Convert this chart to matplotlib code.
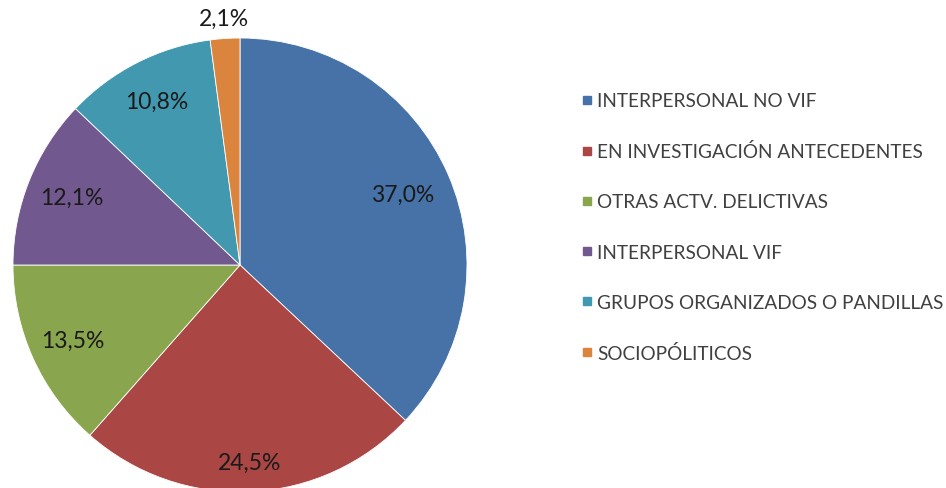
import numpy as np
import matplotlib
matplotlib.use('Agg')
import matplotlib.pyplot as plt
from matplotlib.lines import Line2D

# Datos
categorias = ['INTERPERSONAL NO VIF', 'EN INVESTIGACIÓN ANTECEDENTES',
              'OTRAS ACTV. DELICTIVAS', 'INTERPERSONAL VIF',
              'GRUPOS ORGANIZADOS O PANDILLAS', 'SOCIOPÓLITICOS']
porcentajes = [37.0, 24.5, 13.5, 12.1, 10.8, 2.1]
colores = ['#4672A8', '#AA4644', '#89A54E', '#71588F', '#4198AF', '#DB843D']
dist_etiquetas = [0.78, 0.87, 0.81, 0.80, 0.81, 1.09]

plt.rcParams['font.family'] = ['Lato', 'DejaVu Sans']

fig = plt.figure(figsize=(9.46, 4.89), dpi=100)
W, H = 946, 489
cx, cy, r = 240, 266, 227
ax = fig.add_axes([(cx - r) / W, (H - cy - r) / H, 2 * r / W, 2 * r / H])

wedges, _ = ax.pie(porcentajes, colors=colores, startangle=90, counterclock=False,
                   radius=1, wedgeprops=dict(edgecolor='white', linewidth=0.6))
ax.set_xlim(-1, 1)
ax.set_ylim(-1, 1)
ax.set_aspect('equal')
ax.axis('off')

for w, p, d in zip(wedges, porcentajes, dist_etiquetas):
    ang = np.deg2rad((w.theta1 + w.theta2) / 2)
    ax.text(d * np.cos(ang), d * np.sin(ang), f'{p:.1f}%'.replace('.', ','),
            ha='center', va='center', fontsize=16.5, color='#1a1a1a', clip_on=False)

handles = [Line2D([], [], marker='s', linestyle='', markersize=6, color=c) for c in colores]
fig.legend(handles, categorias, loc='center left', bbox_to_anchor=(580.7 / W, 1 - 228 / H),
           frameon=False, fontsize=13.7, labelcolor='#404040', handlelength=0.66,
           handletextpad=0.2, labelspacing=1.74, borderpad=0, borderaxespad=0)

fig.savefig('out.png', dpi=100)
